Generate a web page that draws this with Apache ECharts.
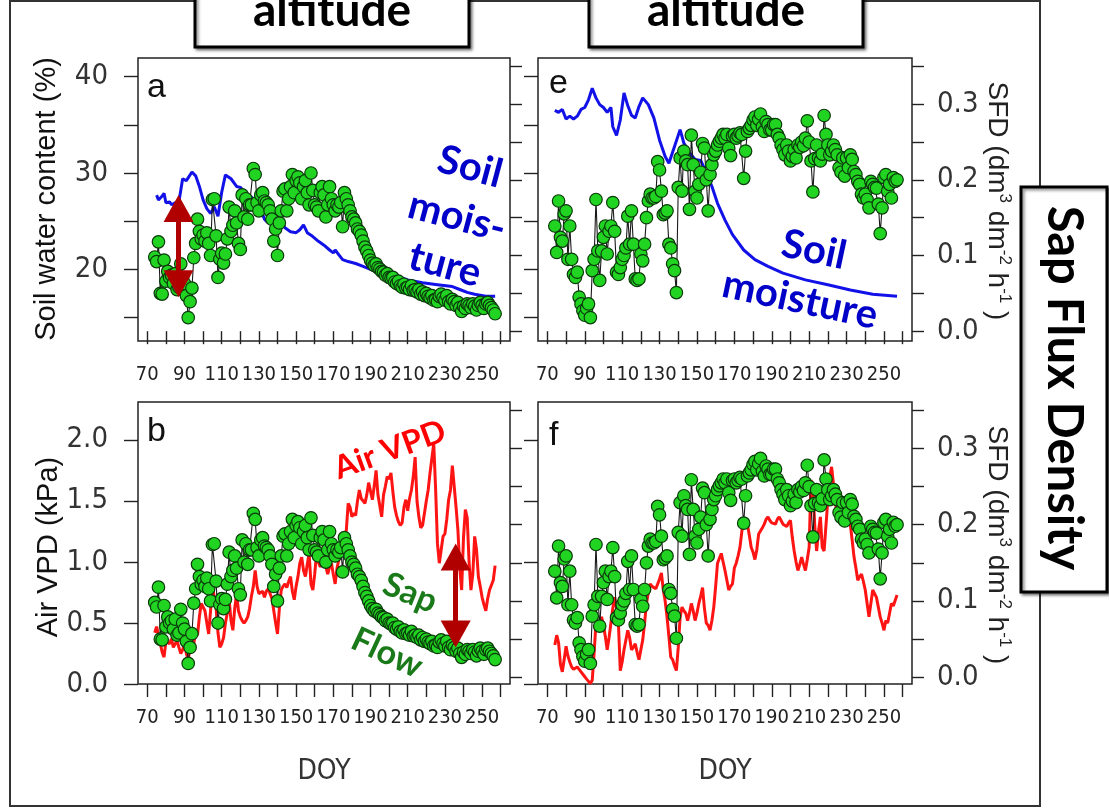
<!DOCTYPE html>
<html><head><meta charset="utf-8">
<script src="https://cdn.jsdelivr.net/npm/echarts@6.0.0/dist/echarts.min.js"></script>
<style>html,body{margin:0;padding:0;background:#fff}#c{width:1109px;height:808px}</style>
</head><body><div id="c"></div>
<script>
// ---------------- DATA ----------------
const doy = [74,75,76,77,78,79,80,81,82,83,84,85,86,87,88,89,90,91,92,93,94,95,96,97,98,99,100,101,102,103,104,105,106,107,108,109,110,111,112,113,114,115,116,117,118,119,120,121,122,123,124,125,126,127,128,129,130,131,132,133,134,135,136,137,138,139,140,141,142,143,144,145,146,147,148,149,150,151,152,153,154,155,156,157,158,159,160,161,162,163,164,165,166,167,168,169,170,171,172,173,174,175,176,177,178,179,180,181,182,183,184,185,186,187,188,189,190,191,192,193,194,195,196,197,198,199,200,201,202,203,204,205,206,207,208,209,210,211,212,213,214,215,216,217,218,219,220,221,222,223,224,225,226,227,228,229,230,231,232,233,234,235,236,237,238,239,240,241,242,243,244,245,246,247,248,249,250,251,252,253,254,255,256,257];

// Sap flux density, low altitude (panels a, b) dm3 dm-2 h-1
const sfdLow = [0.098,0.092,0.118,0.050,0.049,0.094,0.066,0.079,0.071,0.074,
 0.063,0.076,0.055,0.058,0.089,0.071,0.063,0.047,0.018,0.039,
 0.057,0.097,0.116,0.148,0.132,0.122,0.127,0.119,0.130,0.116,
 0.100,0.174,0.175,0.126,0.071,0.095,0.103,0.090,0.102,0.122,
 0.164,0.132,0.140,0.159,0.143,0.116,0.108,0.180,0.151,0.175,
 0.148,0.167,0.167,0.215,0.207,0.170,0.159,0.180,0.183,0.172,
 0.170,0.167,0.159,0.148,0.119,0.135,0.100,0.143,0.159,0.185,
 0.188,0.159,0.175,0.191,0.207,0.183,0.199,0.204,0.196,0.175,
 0.191,0.199,0.183,0.167,0.209,0.186,0.167,0.164,0.159,0.183,
 0.191,0.180,0.151,0.167,0.191,0.175,0.167,0.159,0.167,0.164,
 0.170,0.138,0.183,0.175,0.167,0.159,0.151,0.148,0.143,0.135,
 0.132,0.127,0.119,0.111,0.106,0.100,0.094,0.090,0.087,0.089,
 0.084,0.082,0.079,0.078,0.074,0.076,0.071,0.070,0.071,0.065,
 0.063,0.066,0.060,0.058,0.062,0.057,0.058,0.055,0.060,0.054,
 0.055,0.052,0.055,0.049,0.052,0.047,0.050,0.046,0.044,0.047,
 0.041,0.042,0.039,0.046,0.049,0.044,0.041,0.047,0.039,0.036,
 0.042,0.039,0.034,0.038,0.031,0.026,0.033,0.030,0.036,0.034,
 0.031,0.036,0.033,0.028,0.034,0.038,0.034,0.030,0.036,0.038,
 0.034,0.031,0.028,0.023];

// Sap flux density, high altitude (panels e, f)
const sfdHigh = [0.139,0.104,0.172,0.124,0.119,0.155,0.159,0.095,0.139,0.095,
 0.075,0.071,0.078,0.045,0.036,0.027,0.021,0.030,0.036,0.018,
 0.080,0.095,0.174,0.106,0.067,0.106,0.124,0.139,0.102,0.132,
 0.139,0.170,0.132,0.078,0.075,0.084,0.095,0.100,0.110,0.152,
 0.115,0.159,0.115,0.069,0.067,0.069,0.102,0.093,0.115,0.150,
 0.172,0.181,0.176,0.176,0.178,0.224,0.213,0.185,0.154,0.156,
 0.159,0.115,0.110,0.089,0.080,0.051,0.190,0.229,0.185,0.238,
 0.225,0.220,0.161,0.259,0.220,0.185,0.176,0.194,0.210,0.248,
 0.242,0.200,0.159,0.207,0.220,0.233,0.238,0.246,0.251,0.255,
 0.260,0.255,0.260,0.242,0.232,0.258,0.260,0.255,0.258,0.262,
 0.260,0.202,0.238,0.264,0.268,0.272,0.279,0.283,0.272,0.280,
 0.287,0.270,0.264,0.277,0.273,0.266,0.266,0.273,0.273,0.260,
 0.255,0.246,0.240,0.233,0.246,0.238,0.225,0.231,0.240,0.229,
 0.246,0.243,0.250,0.245,0.255,0.278,0.250,0.225,0.184,0.228,
 0.246,0.229,0.225,0.234,0.285,0.260,0.246,0.233,0.238,0.246,
 0.240,0.233,0.216,0.210,0.229,0.205,0.229,0.216,0.233,0.227,
 0.211,0.207,0.198,0.194,0.181,0.176,0.181,0.174,0.163,0.198,
 0.194,0.190,0.189,0.168,0.129,0.163,0.203,0.207,0.185,0.194,
 0.176,0.203,0.198,0.200];

// Air VPD (kPa), low altitude (panel b)
const vpdLow = [0.42,0.47,0.40,0.33,0.26,0.22,0.35,0.36,0.33,0.37,
 0.30,0.33,0.35,0.30,0.25,0.28,0.33,0.25,0.20,0.30,
 0.40,0.33,0.44,0.40,0.55,0.66,0.65,0.60,0.50,0.41,
 0.60,0.82,0.71,0.62,0.42,0.30,0.33,0.38,0.50,0.58,
 0.69,0.52,0.44,0.62,0.74,0.60,0.55,0.52,0.50,0.52,
 0.55,0.62,0.72,0.80,0.93,0.80,0.74,0.74,0.76,0.71,
 0.76,0.78,0.79,0.70,0.60,0.50,0.41,0.62,0.77,0.80,
 0.82,0.79,0.84,0.88,0.76,0.69,0.80,0.88,0.99,1.04,
 0.93,0.88,0.98,1.07,0.82,0.77,0.90,1.07,1.00,0.96,
 1.00,1.08,0.96,0.90,0.96,0.99,0.90,0.82,0.95,1.02,
 1.10,1.18,1.22,1.26,1.48,1.45,1.37,1.40,1.38,1.50,
 1.59,1.52,1.50,1.48,1.55,1.65,1.58,1.51,1.62,1.75,
 1.55,1.46,1.37,1.55,1.62,1.70,1.68,1.73,1.58,1.45,
 1.38,1.33,1.30,1.32,1.45,1.51,1.42,1.52,1.59,1.70,
 1.86,1.50,1.37,1.28,1.30,1.40,1.50,1.59,1.73,1.85,
 1.97,1.60,1.15,0.99,1.10,1.21,1.23,1.35,1.51,1.59,
 1.79,1.62,1.45,1.26,0.95,0.77,1.20,1.43,1.36,1.00,
 0.77,0.90,1.21,1.10,0.88,0.80,0.71,0.65,0.60,0.70,
 0.77,0.78,0.85,0.97];

// Air VPD (kPa), high altitude (panel f)
const vpdHigh = [0.32,0.40,0.34,0.16,0.10,0.20,0.31,0.23,0.18,0.14,
 0.12,0.11,0.14,0.12,0.10,0.08,0.07,0.04,0.03,0.005,
 0.03,0.25,0.50,0.44,0.48,0.55,0.48,0.39,0.28,0.38,
 0.50,0.62,0.71,0.62,0.50,0.11,0.18,0.28,0.36,0.44,
 0.38,0.28,0.30,0.33,0.26,0.20,0.28,0.36,0.50,0.66,
 0.75,0.82,0.80,0.80,0.78,0.82,0.86,0.91,0.77,0.68,
 0.55,0.39,0.22,0.20,0.15,0.11,0.30,0.55,0.63,0.60,
 0.58,0.52,0.58,0.66,0.60,0.52,0.58,0.66,0.72,0.79,
 0.62,0.50,0.48,0.44,0.52,0.63,0.80,0.99,1.03,1.07,
 1.00,0.93,0.85,0.77,0.80,0.82,0.95,0.99,1.05,1.12,
 1.25,1.34,1.33,1.31,1.22,1.12,1.08,1.02,1.10,1.23,
 1.23,1.28,1.31,1.35,1.37,1.34,1.32,1.31,1.31,1.35,
 1.37,1.34,1.31,1.30,1.29,1.32,1.34,1.20,1.09,1.00,
 0.93,0.98,1.04,0.98,0.93,1.02,1.12,1.67,1.61,1.30,
 1.09,1.25,1.37,1.12,1.09,1.30,1.51,1.70,1.78,1.64,
 1.50,1.37,1.33,1.31,1.48,1.46,1.43,1.38,1.31,1.18,
 1.04,0.95,0.85,0.88,0.90,0.84,0.77,0.66,0.55,0.66,
 0.77,0.74,0.71,0.63,0.55,0.50,0.44,0.52,0.50,0.50,
 0.66,0.64,0.63,0.73];

// Soil water content (%), low altitude (panel a)
const soilLowDoy = [75,76,78,79,80,82,83,85,87,89,91,92,94,96,98,100,102,104,106,108,110,112,113,115,118,120,121,123,126,129,131,133,135,138,140,142,144,147,150,152,154,156,159,162,165,168,170,171,173,175,178,182,186,190,195,200,204,210,218,226,234,238,242,246,252,257];
const soilLowVal = [27.7,27.2,27.6,27.9,26.9,27.0,26.7,26.9,27.0,29.4,29.2,29.1,30.1,29.7,28.6,27.2,26.3,25.8,26.5,25.5,28.0,29.8,30.0,29.4,28.6,28.5,28.7,27.9,27.5,26.5,26.2,25.2,24.8,25.2,24.8,25.0,24.3,23.9,23.8,24.1,24.6,23.8,23.4,22.9,22.5,22.0,21.7,22.0,21.5,21.0,20.8,20.6,20.3,20.0,19.7,19.4,19.3,18.9,18.6,18.4,18.2,17.9,17.6,17.4,17.2,17.2];

// Soil water content (%), high altitude (panel e)
const soilHighDoy = [74,76,78,80,82,84,86,88,90,92,94,96,98,100,102,104,105,107,109,111,113,115,117,119,121,124,127,130,133,135,138,141,143,146,149,152,155,158,161,165,169,175,181,188,196,208,220,232,244,257];
const soilHighVal = [36.5,36.3,36.6,35.6,35.9,35.6,35.9,36.6,36.8,37.6,38.8,37.8,37.1,36.8,36.3,36.8,34.8,33.9,35.5,38.3,37.0,36.0,35.7,36.9,37.8,37.1,35.7,33.4,31.7,31.0,32.75,34.5,33.1,32.1,31.4,31.3,30.0,28.6,26.85,25.1,23.6,22.0,21.0,20.3,19.6,18.9,18.4,17.85,17.4,17.2];

// Axis ticks and labels
const doyTicks = [70,80,90,100,110,120,130,140,150,160,170,180,190,200,210,220,230,240,250,260];
const doyLabels = [70,90,110,130,150,170,190,210,230,250];
const swcTicks = [15,20,25,30,35,40];
const swcLabels = [20,30,40];
const sfdTicks = [0,0.05,0.1,0.15,0.2,0.25,0.3,0.35];
const sfdLabels = [0,0.1,0.2,0.3];
const vpdTicks = [0,0.5,1,1.5,2];

// Arrow annotations [DOY, from, to] in the left-axis units of their panel
const arrowA = [86.8, 26.3, 18.5];
const arrowB = [235.8, 1.04, 0.41];

// ---------------- CHART ----------------
const NARROW = "'Liberation Sans Narrow','Arial Narrow','DejaVu Sans Condensed',sans-serif";
const SANS = "'Liberation Sans',Arial,sans-serif";
const BOLD = "Lato,'Open Sans',sans-serif";
const pairs = (xs, ys) => xs.map((x, i) => [x, ys[i]]);
const chart = echarts.init(document.getElementById('c'), null, {renderer: 'canvas'});

const grids = [
  {left: 138, top: 58, width: 372, height: 283, show: true, borderColor: '#222', borderWidth: 1.5},
  {left: 538, top: 58, width: 374, height: 283, show: true, borderColor: '#222', borderWidth: 1.5},
  {left: 138, top: 402, width: 372, height: 282, show: true, borderColor: '#222', borderWidth: 1.5},
  {left: 538, top: 402, width: 374, height: 282, show: true, borderColor: '#222', borderWidth: 1.5}
];

const tickStyle = {color: '#222', width: 1.4};
const xAxes = [0, 1, 2, 3].map(i => ({
  type: 'value', gridIndex: i, min: 65, max: 265,
  axisLine: {show: false}, splitLine: {show: false},
  axisTick: {customValues: doyTicks, length: 13, lineStyle: tickStyle},
  axisLabel: {customValues: doyLabels, margin: 24, fontFamily: NARROW, fontSize: 20, color: '#222',
    hideOverlap: false, showMinLabel: true, showMaxLabel: true}
}));

function yAx(grid, pos, min, max, ticks, labels, showLabels, fmt) {
  return {
    type: 'value', gridIndex: grid, position: pos, min: min, max: max,
    axisLine: {show: false}, splitLine: {show: false},
    axisTick: {customValues: ticks, length: pos === 'left' ? 14 : 12, lineStyle: tickStyle},
    axisLabel: {show: showLabels, customValues: labels, margin: pos === 'left' ? 30 : 25,
      fontFamily: NARROW, fontSize: 29, color: '#333', formatter: fmt}
  };
}
const f1 = v => Number(v).toFixed(1);
const f0 = v => String(Math.round(v));
const yAxes = [
  yAx(0, 'left', 12.55, 41.94, swcTicks, swcLabels, true, f0),
  yAx(0, 'right', -0.013, 0.361, sfdTicks, sfdLabels, false, f1),
  yAx(1, 'left', 12.55, 41.94, swcTicks, swcLabels, false, f0),
  yAx(1, 'right', -0.013, 0.361, sfdTicks, sfdLabels, true, f1),
  yAx(2, 'left', 0, 2.311, vpdTicks, vpdTicks, true, f1),
  yAx(2, 'right', -0.009, 0.361, sfdTicks, sfdLabels, false, f1),
  yAx(3, 'left', 0, 2.311, vpdTicks, vpdTicks, false, f1),
  yAx(3, 'right', -0.009, 0.361, sfdTicks, sfdLabels, true, f1)
];

function sapSeries(xi, yi, vals) {
  return {
    type: 'line', xAxisIndex: xi, yAxisIndex: yi, data: pairs(doy, vals),
    symbol: 'circle', symbolSize: 12.5, showSymbol: true, showAllSymbol: true,
    lineStyle: {color: '#1a1a1a', width: 1.1},
    itemStyle: {color: '#22d422', borderColor: '#0a3a0a', borderWidth: 1.2},
    z: 3, silent: true
  };
}
function arrowLine(a) {
  return {
    silent: true, symbol: ['triangle', 'triangle'], symbolSize: [30, 27],
    lineStyle: {color: '#b00000', width: 5, type: 'solid'},
    itemStyle: {color: '#b00000'},
    label: {show: false}, emphasis: {disabled: true},
    data: [[{coord: [a[0], a[1]]}, {coord: [a[0], a[2]]}]]
  };
}
const blue = '#1212e8';
const red = '#ff1414';
const series = [
  {type: 'line', xAxisIndex: 0, yAxisIndex: 0, data: pairs(soilLowDoy, soilLowVal), showSymbol: false,
   lineStyle: {color: blue, width: 3}, z: 2, silent: true, markLine: arrowLine(arrowA)},
  sapSeries(0, 1, sfdLow),
  {type: 'line', xAxisIndex: 1, yAxisIndex: 2, data: pairs(soilHighDoy, soilHighVal), showSymbol: false,
   lineStyle: {color: blue, width: 3}, z: 2, silent: true},
  sapSeries(1, 3, sfdHigh),
  {type: 'line', xAxisIndex: 2, yAxisIndex: 4, data: pairs(doy, vpdLow), showSymbol: false,
   lineStyle: {color: red, width: 3}, z: 2, silent: true, markLine: arrowLine(arrowB)},
  sapSeries(2, 5, sfdLow),
  {type: 'line', xAxisIndex: 3, yAxisIndex: 6, data: pairs(doy, vpdHigh), showSymbol: false,
   lineStyle: {color: red, width: 3}, z: 2, silent: true},
  sapSeries(3, 7, sfdHigh)
];

function txt(text, x, y, font, fill, rot, align) {
  return {type: 'text', x: x, y: y, rotation: rot || 0, z: 100, silent: true,
    style: {text: text, font: font, fill: fill, align: align || 'center', verticalAlign: 'middle'}};
}
const deg = Math.PI / 180;
const sfdTitle = (cy) => ({type: 'text', x: 997, y: cy, rotation: -Math.PI / 2, z: 100, silent: true,
  style: {text: '{a|SFD (dm}{s|3}{a| dm}{s|-2}{a| h}{s|-1}{a| )}', align: 'center', verticalAlign: 'middle',
    rich: {a: {fontFamily: SANS, fontSize: 28, lineHeight: 32, fill: '#222'},
           s: {fontFamily: SANS, fontSize: 17, lineHeight: 18, verticalAlign: 'top', fill: '#222'}}}});
const boxStyle = {fill: '#fff', stroke: '#000', lineWidth: 3, shadowBlur: 3, shadowColor: 'rgba(0,0,0,0.45)', shadowOffsetX: 2, shadowOffsetY: 2};

const graphic = [
  {type: 'rect', shape: {x: 10, y: 1, width: 1030, height: 805}, style: {fill: 'none', stroke: '#333', lineWidth: 2}, z: 1, silent: true},
  {type: 'rect', shape: {x: 195, y: -8, width: 274, height: 55}, style: boxStyle, z: 50, silent: true},
  {type: 'rect', shape: {x: 589, y: -8, width: 274, height: 55}, style: boxStyle, z: 50, silent: true},
  {type: 'rect', shape: {x: 1021, y: 187, width: 86, height: 405}, style: boxStyle, z: 50, silent: true},
  txt('altitude', 332, 11, 'bold 46px ' + BOLD, '#000'),
  txt('altitude', 726, 11, 'bold 46px ' + BOLD, '#000'),
  txt('Sap Flux Density', 1064, 388, 'bold 49px ' + BOLD, '#000', -Math.PI / 2),
  txt('Soil water content (%)', 47, 199, '29px ' + SANS, '#111', Math.PI / 2),
  txt('Air VPD (kPa)', 49, 547, '29px ' + SANS, '#111', Math.PI / 2),
  sfdTitle(201), sfdTitle(545),
  txt('DOY', 324, 772, '28px ' + NARROW, '#333'),
  txt('DOY', 725, 772, '28px ' + NARROW, '#333'),
  txt('a', 147, 88, '34px ' + SANS, '#111', 0, 'left'),
  txt('e', 549, 84, '34px ' + SANS, '#111', 0, 'left'),
  txt('b', 147, 432, '34px ' + SANS, '#111', 0, 'left'),
  txt('f', 549, 436, '34px ' + SANS, '#111', 0, 'left'),
  txt('Soil', 470, 167, 'bold 40px ' + BOLD, '#0000c8', -15 * deg),
  txt('mois-', 457, 217, 'bold 40px ' + BOLD, '#0000c8', -15 * deg),
  txt('ture', 445, 265, 'bold 40px ' + BOLD, '#0000c8', -15 * deg),
  txt('Soil', 814, 250, 'bold 40px ' + BOLD, '#0000c8', -12 * deg),
  txt('moisture', 800, 300, 'bold 40px ' + BOLD, '#0000c8', -12 * deg),
  txt('Air VPD', 390, 450, 'bold 32px ' + BOLD, '#ff0000', 20 * deg),
  txt('Sap', 410, 593, 'bold 34px ' + BOLD, '#1a7a1a', -22 * deg),
  txt('Flow', 387, 653, 'bold 34px ' + BOLD, '#1a7a1a', -25 * deg)
];

chart.setOption({
  animation: false,
  backgroundColor: '#fff',
  grid: grids,
  xAxis: xAxes,
  yAxis: yAxes,
  series: series,
  graphic: graphic
});
</script></body></html>
